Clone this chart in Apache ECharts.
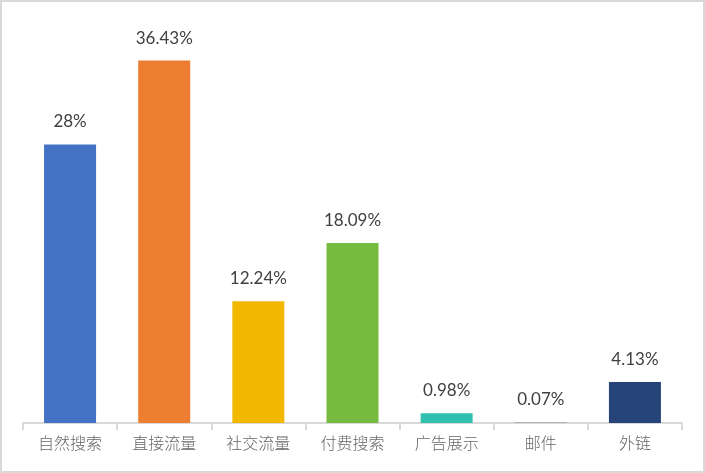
<!DOCTYPE html>
<html>
<head>
<meta charset="utf-8">
<script src="https://cdn.jsdelivr.net/npm/echarts@6/dist/echarts.min.js"></script>
<style>
  html, body { margin: 0; padding: 0; background: #fff; }
  #chart-container { width: 701px; height: 469px; border: 2px solid #d9d9d9; }
</style>
</head>
<body>
<div id="chart-container"></div>
<script>
// data
var categories = ['自然搜索', '直接流量', '社交流量', '付费搜索', '广告展示', '邮件', '外链'];
var values = [28, 36.43, 12.24, 18.09, 0.98, 0.07, 4.13];
var barColors = ['#4472C4', '#ED7D31', '#F2B800', '#77BC41', '#31C0B0', '#A5A5A5', '#264478'];

var dom = document.getElementById('chart-container');
var myChart = echarts.init(dom, null, { renderer: 'canvas' });

var barData = values.map(function (v, i) {
  return { value: v, itemStyle: { color: barColors[i] } };
});

var option = {
  animation: false,
  grid: { left: 21, right: 21, top: 23, bottom: 48 },
  xAxis: {
    type: 'category',
    data: categories,
    axisLine: { lineStyle: { color: '#d9d9d9', width: 2 } },
    axisTick: { show: true, length: 7, lineStyle: { color: '#d9d9d9', width: 2 } },
    axisLabel: {
      margin: 12,
      fontSize: 16,
      color: '#666666',
      fontFamily: 'Noto Sans CJK SC',
      fontWeight: 300
    }
  },
  yAxis: {
    type: 'value',
    min: 0,
    max: 40,
    show: false
  },
  series: [{
    type: 'bar',
    data: barData,
    barWidth: 52,
    label: {
      show: true,
      position: 'top',
      distance: 14,
      fontSize: 17,
      color: '#404040',
      fontFamily: 'Lato',
      formatter: function (p) { return p.value + '%'; }
    }
  }]
};

myChart.setOption(option);
window.addEventListener('resize', myChart.resize);
</script>
</body>
</html>
